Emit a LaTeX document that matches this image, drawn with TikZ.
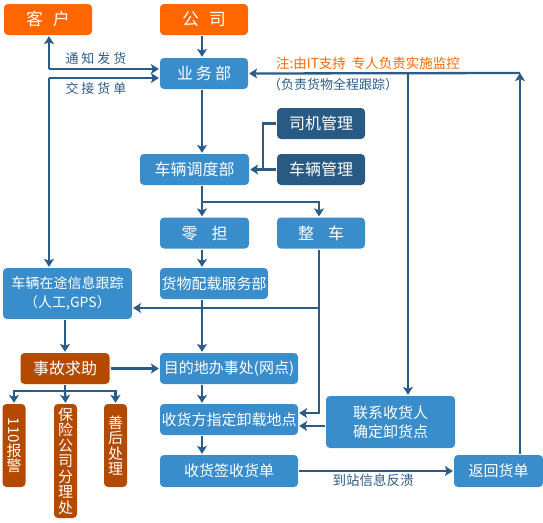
\documentclass[tikz,border=0pt]{standalone}
\usepackage{fontspec}
\usepackage{graphicx}
\setmainfont{Noto Sans CJK SC}
\usetikzlibrary{arrows.meta,calc}
\definecolor{orangec}{HTML}{FF6600}
\definecolor{bluec}{HTML}{3A8DCB}
\definecolor{darkc}{HTML}{285A84}
\definecolor{brownc}{HTML}{B44A00}
\definecolor{linec}{HTML}{2B5B87}
\tikzstyle{basebox}=[rectangle, rounded corners=4pt, text=white, inner sep=0pt,% plain filled boxes
minimum height=31pt, align=center]
\tikzstyle{orangebox}=[basebox, fill=orangec, minimum width=88pt, font=\fontsize{17}{17}\selectfont]
\tikzstyle{bluebox}=[basebox, fill=bluec, font=\fontsize{15}{19}\selectfont]
\tikzstyle{darkbox}=[basebox, fill=darkc, minimum width=88pt, font=\fontsize{16}{16}\selectfont]
\tikzstyle{brownbox}=[basebox, fill=brownc, font=\fontsize{16}{16}\selectfont]
\tikzstyle{vbox}=[basebox, fill=brownc, minimum width=23pt, font=\fontsize{15}{15.5}\selectfont]
\tikzstyle{dgraph}=[line width=2.3pt, draw=linec, >={Stealth[length=8pt,width=10pt,inset=2pt]}]
\tikzstyle{lbl}=[text=linec, font=\fontsize{13}{13}\selectfont]

\begin{document}
\begin{tikzpicture}[x=1pt,y=-1pt,dgraph]
\useasboundingbox (0,0) rectangle (543,522);
\node[orangebox] (kehu) at (48,19.5) {客\hspace{10pt}户};
\node[orangebox] (gongsi) at (204,19.5) {公\hspace{10pt}司};
\node[bluebox, minimum width=88pt, font=\fontsize{16}{16}\selectfont] (yewu) at (204,73.5) {业\hspace{3pt}务\hspace{3pt}部};
\node[darkbox] (siji) at (321,123.5) {司机管理};
\node[darkbox] (cheliang) at (321,169.5) {车辆管理};
\node[bluebox, minimum width=109pt, font=\fontsize{16}{16}\selectfont] (diaodu) at (194.5,169.5) {车辆调度部};
\node[bluebox, minimum width=89pt, font=\fontsize{16}{16}\selectfont] (lingdan) at (204.5,233) {零\hspace{14pt}担};
\node[bluebox, minimum width=88pt, font=\fontsize{16}{16}\selectfont] (zhengche) at (321,233) {整\hspace{14pt}车};
\node[bluebox, minimum width=108pt] (peizai) at (214,283.5) {货物配载服务部};
\node[bluebox, minimum width=129pt, minimum height=51pt, font=\fontsize{14}{19}\selectfont] (zaitu) at (67.5,293.5) {车辆在途信息跟踪\\（人工,GPS）};
\node[brownbox, minimum width=89pt] (shigu) at (65,368.5) {事故求助};
\node[bluebox, minimum width=138pt] (mudi) at (229,368.5) {目的地办事处(网点)};
\node[vbox, minimum height=83pt] (baojing) at (14,445.5) {\rotatebox[origin=c]{-90}{110}\\报\\警};
\node[vbox, minimum height=114pt] (baoxian) at (65.5,461) {保\\险\\公\\司\\分\\理\\处};
\node[vbox, minimum height=83pt] (shanhou) at (115.5,445.5) {善\\后\\处\\理};
\node[bluebox, minimum width=138pt] (xiehuo) at (229,419.5) {收货方指定卸载地点};
\node[bluebox, minimum width=129pt, minimum height=52pt] (lianxi) at (390.5,422) {联系收货人\\确定卸货点};
\node[bluebox, minimum width=138pt, minimum height=32pt] (qianshou) at (229,471) {收货签收货单};
\node[bluebox, minimum width=89pt, minimum height=32pt] (fanhui) at (498.5,471) {返回货单};
% turning points of the connectors
\coordinate (col) at (202,0);
\coordinate (colr) at (319,0);
\coordinate (kL) at (49,69);
\coordinate (jL) at (49,78);
\coordinate (tR) at (520,73);
\coordinate (tM) at (408,73);
\coordinate (jn) at (263,169.5);
\coordinate (fz) at (202,202);
\coordinate (zb) at (319,308);
\coordinate (zd) at (319,413);
\coordinate (sb) at (65,391);
% texts on the lines
\node[lbl] (tongzhi) at (96,59) {通\hspace{3pt}知\hspace{3pt}发\hspace{3pt}货};
\node[lbl] (jiaojie) at (96,89) {交\hspace{3pt}接\hspace{3pt}货\hspace{3pt}单};
\node[lbl, text=orangec, font=\fontsize{13.5}{13.5}\selectfont] (zhu) at (368,63) {注:由IT支持\hspace{6pt}专人负责实施监控};
\node[lbl] (genzong) at (333,85) {（负责货物全程跟踪）};
\node[lbl, font=\fontsize{13.5}{13.5}\selectfont] (fankui) at (373,480) {到站信息反溃};
% connectors
\draw[->] (gongsi.south -| col) -- (yewu.north -| col);
\draw[->] (kL) -- (kL |- kehu.south);
\draw[->] (kL) -- (kL -| yewu.west);
\draw[->] (jL) -- (jL -| yewu.west);
\draw[->] (jL) -- (jL |- zaitu.north);
\draw[->] (fanhui.north -| tR) -- (tR);
\draw[->] (tR) -- (yewu.east);
\draw[->] (tM) -- (tM |- lianxi.north);
\draw[->] (yewu.south -| col) -- (diaodu.north -| col);
\draw (siji.west) -| (jn);
\draw[->] (cheliang.west) -- (diaodu.east);
\draw[->] (diaodu.south -| col) -- (lingdan.north -| col);
\draw[->] (fz) -| (zhengche.north -| colr);
\draw[->] (lingdan.south -| col) -- (peizai.north -| col);
\draw[->] (peizai.south -| col) -- (mudi.north -| col);
\draw[->] (zhengche.south -| colr) -- (zd) -- (zd -| xiehuo.east);
\draw[->] (zb) -- (zb -| zaitu.east);
\draw[->] (zaitu.south -| shigu) -- (shigu.north);
\draw[->] (shigu.east) -- (mudi.west);
\draw (shigu.south) -- (sb);
\draw[->] (sb) -| (baojing.north);
\draw[->] (sb) -| (shanhou.north);
\draw[->] (sb) -- (baoxian.north);
\draw[->] (mudi.south -| col) -- (xiehuo.north -| col);
\draw[->] ([yshift=-4pt]lianxi.west) -- ([yshift=-4pt]lianxi.west -| xiehuo.east);
\draw[->] (xiehuo.south -| col) -- (qianshou.north -| col);
\draw[->] (qianshou.east) -- (fanhui.west);
\end{tikzpicture}
\end{document}
